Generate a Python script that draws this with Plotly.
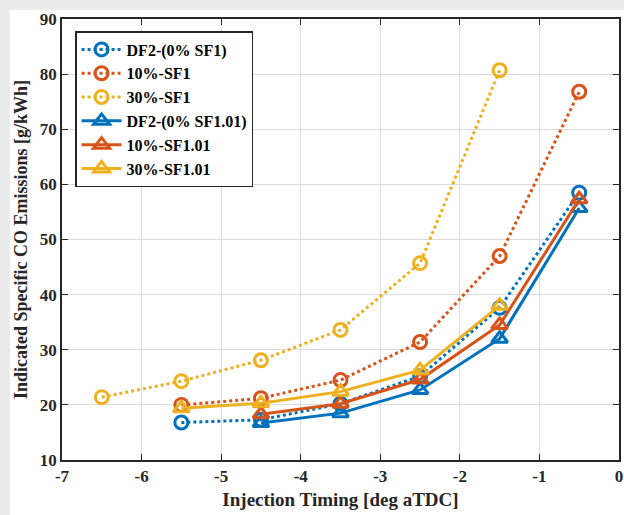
import plotly.graph_objects as go

# Data
x_df2_sf1 = [-5.5, -4.5, -3.5, -2.5, -1.5, -0.5]
y_df2_sf1 = [16.8, 17.3, 20.2, 25.2, 37.6, 58.5]

x_10_sf1 = [-5.5, -4.5, -3.5, -2.5, -1.5, -0.5]
y_10_sf1 = [20.0, 21.2, 24.5, 31.4, 47.0, 76.8]

x_30_sf1 = [-6.5, -5.5, -4.5, -3.5, -2.5, -1.5]
y_30_sf1 = [21.4, 24.3, 28.1, 33.6, 45.7, 80.7]

x_df2_sf101 = [-4.5, -3.5, -2.5, -1.5, -0.5]
y_df2_sf101 = [16.7, 18.5, 22.7, 32.0, 55.7]

x_10_sf101 = [-4.5, -3.5, -2.5, -1.5, -0.5]
y_10_sf101 = [18.3, 20.2, 24.6, 34.5, 57.3]

x_30_sf101 = [-5.5, -4.5, -3.5, -2.5, -1.5]
y_30_sf101 = [19.4, 20.3, 22.4, 26.3, 38.0]

names = ["DF2-(0% SF1)", "10%-SF1", "30%-SF1",
         "DF2-(0% SF1.01)", "10%-SF1.01", "30%-SF1.01"]

x_tickvals = [-7, -6, -5, -4, -3, -2, -1, 0]
x_ticktext = ["-7", "-6", "-5", "-4", "-3", "-2", "-1", "0"]
y_tickvals = [10, 20, 30, 40, 50, 60, 70, 80, 90]
y_ticktext = ["10", "20", "30", "40", "50", "60", "70", "80", "90"]

BLUE = "#0072BD"
ORANGE = "#D95319"
YELLOW = "#EDB120"
FONT = "Liberation Serif"

W, H = 624, 515
ML, MR, MT, MB = 62, 5, 19, 55
PW, PH = W - ML - MR, H - MT - MB

fig = go.Figure()

series = [
    (x_df2_sf1, y_df2_sf1, names[0], BLUE, "dot", "circle-open"),
    (x_10_sf1, y_10_sf1, names[1], ORANGE, "dot", "circle-open"),
    (x_30_sf1, y_30_sf1, names[2], YELLOW, "dot", "circle-open"),
    (x_df2_sf101, y_df2_sf101, names[3], BLUE, "solid", "triangle-up-open"),
    (x_10_sf101, y_10_sf101, names[4], ORANGE, "solid", "triangle-up-open"),
    (x_30_sf101, y_30_sf101, names[5], YELLOW, "solid", "triangle-up-open"),
]

for xs, ys, nm, col, dash, sym in series:
    fig.add_trace(go.Scatter(
        x=xs, y=ys, name=nm, mode="lines+markers",
        line=dict(color=col, width=3, dash=dash),
        marker=dict(symbol=sym, size=13 if sym.startswith("circle") else 14,
                    color=col, line=dict(color=col, width=3)),
    ))

axis_common = dict(
    showline=True, linecolor="#262626", linewidth=1.5, mirror="ticks",
    ticks="inside", ticklen=6, tickcolor="#262626", tickwidth=1.2,
    showgrid=True, gridcolor="#DCDCDC", gridwidth=1, zeroline=False,
    automargin=False,
    tickfont=dict(family=FONT, size=17, color="#262626", weight="bold"),
)

fig.update_xaxes(range=[-7, 0], tickmode="array",
                 tickvals=x_tickvals, ticktext=x_ticktext, **axis_common,
                 title=dict(text="<b>Injection Timing [deg aTDC]</b>",
                            font=dict(family=FONT, size=19, color="#262626"),
                            standoff=8))
fig.update_yaxes(range=[10, 90], tickmode="array",
                 tickvals=y_tickvals, ticktext=y_ticktext, **axis_common,
                 title=dict(text="<b>Indicated Specific CO Emissions [g/kWh]</b>",
                            font=dict(family=FONT, size=18, color="#262626"),
                            standoff=8))

# light grey frame strips at the left and top edges of the picture
strip = 10
shapes = [
    dict(type="rect", xref="paper", yref="paper", layer="below",
         x0=-ML / PW, x1=(strip - ML) / PW, y0=-MB / PH, y1=1 + MT / PH,
         fillcolor="#EBEBEB", line=dict(width=0)),
    dict(type="rect", xref="paper", yref="paper", layer="below",
         x0=-ML / PW, x1=(W - ML) / PW, y0=1 + (MT - strip) / PH, y1=1 + MT / PH,
         fillcolor="#EBEBEB", line=dict(width=0)),
]

fig.update_layout(
    width=W, height=H,
    margin=dict(l=ML, r=MR, t=MT, b=MB),
    plot_bgcolor="white", paper_bgcolor="white",
    font=dict(family=FONT, color="#262626"),
    showlegend=True,
    shapes=shapes,
    legend=dict(x=0.024, y=0.972, xanchor="left", yanchor="top",
                bgcolor="white", bordercolor="#262626", borderwidth=1.2,
                font=dict(family=FONT, size=16, color="black", weight="bold"),
                tracegroupgap=0, itemwidth=40),
)

fig.write_html("out.html",
               config={"displayModeBar": False},
               post_script="document.body.style.margin='0px';"
                           "document.body.style.overflow='hidden';")
